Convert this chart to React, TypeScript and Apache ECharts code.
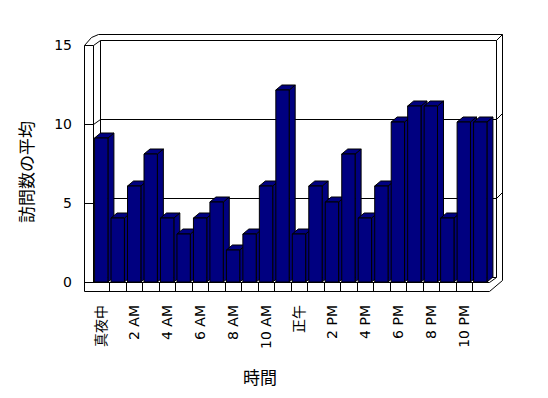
import React, { useEffect, useRef } from "react";
import * as echarts from "echarts";

const CATEGORIES = [
  "真夜中", "1 AM", "2 AM", "3 AM", "4 AM", "5 AM", "6 AM", "7 AM", "8 AM", "9 AM", "10 AM", "11 AM",
  "正午", "1 PM", "2 PM", "3 PM", "4 PM", "5 PM", "6 PM", "7 PM", "8 PM", "9 PM", "10 PM", "11 PM",
];
const VISITS = [9, 4, 6, 8, 4, 3, 4, 5, 2, 3, 6, 12, 3, 6, 5, 8, 4, 6, 10, 11, 11, 4, 10, 10];
const Y_MIN = 0;
const Y_MAX = 15;
const Y_STEP = 5;
const X_TITLE = "時間";
const Y_TITLE = "訪問数の平均";

const FONT = "'DejaVu Sans', 'Noto Sans CJK JP', sans-serif";
const CJK = "'Noto Sans CJK JP', sans-serif";
const NAVY = "#000080";

const r = (n: number) => Math.round(n) + 0.5;

function frameRender(params: any, api: any) {
  const n = CATEGORIES.length;
  const cw = api.size([1, 0])[0];
  const X0 = api.coord([0, 0])[0] - cw / 2;
  const X1 = api.coord([n - 1, 0])[0] + cw / 2;
  const py = (v: number) => api.coord([0, v])[1];
  const Y0 = py(Y_MIN);
  const YT = py(Y_MAX);
  const T = 9;
  const DX = 7, DY = -5;
  const OX = 13, OY = -11;
  const st = { stroke: "#000", lineWidth: 1, fill: null };
  const L = (pts: number[][]) => ({
    type: "polyline",
    shape: { points: pts.map((p) => [r(p[0]), r(p[1])]) },
    style: st,
  });
  const children: any[] = [];
  // white fills
  children.push({
    type: "polygon",
    shape: { points: [[X0 - T, YT], [X0 + DX, YT + DY], [X1 + DX, YT + DY], [X1 + DX, Y0 + DY], [X1, Y0 + T], [X0 - T, Y0 + T]] },
    style: { fill: "#fff", stroke: null },
  });
  // left wall
  children.push(L([[X0 - T, YT], [X0 - T, Y0 + T]]));
  children.push(L([[X0, YT], [X0, Y0]]));
  children.push(L([[X0 + DX, YT + DY], [X0 + DX, Y0 + DY]]));
  // top-left corner
  children.push(L([[X0 - T, YT], [X0, YT], [X0 + DX, YT + DY], [X1 + DX, YT + DY], [X1 + OX, YT + OY]]));
  children.push(L([[X0 - T, YT], [X0 - T + 7, YT - 8], [X0 + 5, YT + OY], [X1 + OX, YT + OY], [X1 + OX, Y0 - 2], [X1, Y0 + T]]));
  // right wall inner
  children.push(L([[X1 + DX, YT + DY], [X1 + DX, Y0 + DY]]));
  // floor
  children.push(L([[X0 - T, Y0 + T], [X1, Y0 + T]]));
  children.push(L([[X0 - T, Y0], [X1, Y0], [X1 + DX, Y0 + DY]]));
  children.push(L([[X0, Y0], [X0 + DX, Y0 + DY], [X1 + DX, Y0 + DY]]));
  // floor front ticks at category boundaries
  for (let k = 1; k < n; k++) {
    const x = (api.coord([k - 1, 0])[0] + api.coord([k, 0])[0]) / 2;
    children.push(L([[x, Y0], [x, Y0 + T]]));
  }
  // gridlines
  for (let v = Y_MIN + Y_STEP; v < Y_MAX; v += Y_STEP) {
    const y = py(v);
    children.push(L([[X0 - T, y], [X0, y], [X0 + DX, y + DY], [X1 + DX, y + DY], [X1 + OX, y + OY]]));
  }
  return { type: "group", children };
}

function barRender(params: any, api: any) {
  const i = api.value(0);
  const v = api.value(1);
  const top = api.coord([i, v]);
  const base = api.coord([i, 0]);
  const cw = api.size([1, 0])[0];
  const w = cw * 0.81;
  const x0 = top[0] - w / 2;
  const x1 = top[0] + w / 2;
  const yT = top[1];
  const yB = base[1];
  const dx = 6, dy = -5;
  const st = (fill: string) => ({ fill, stroke: "#000", lineWidth: 1 });
  return {
    type: "group",
    children: [
      {
        type: "polygon",
        shape: { points: [[x1, yB], [x1 + dx, yB + dy], [x1 + dx, yT + dy], [x1, yT]] },
        style: st(NAVY),
      },
      {
        type: "polygon",
        shape: { points: [[x0, yT], [x1, yT], [x1 + dx, yT + dy], [x0 + dx, yT + dy]] },
        style: st(NAVY),
      },
      {
        type: "rect",
        shape: { x: x0, y: yT, width: w, height: yB - yT },
        style: st(NAVY),
      },
    ],
  };
}

export default function App() {
  const ref = useRef<HTMLDivElement>(null);
  useEffect(() => {
    if (!ref.current) return;
    const chart = echarts.init(ref.current, null, { renderer: "svg" });
    const gridPos = { left: 93, right: 59.5 };
    chart.setOption({
      animation: false,
      backgroundColor: "#fff",
      grid: [
        { ...gridPos, top: 45, bottom: 116 },
        { ...gridPos, top: 42, bottom: 116 },
      ],
      xAxis: [
        {
          type: "category",
          gridIndex: 0,
          data: CATEGORIES,
          axisLine: { show: false },
          axisTick: { show: false },
          axisLabel: {
            interval: 1,
            rotate: 90,
            margin: 23,
            fontSize: 14,
            color: "#000",
            fontFamily: FONT,
          },
        },
        {
          type: "category",
          gridIndex: 1,
          data: CATEGORIES,
          show: false,
        },
      ],
      yAxis: [
        {
          type: "value",
          gridIndex: 0,
          min: Y_MIN,
          max: Y_MAX,
          interval: Y_STEP,
          axisLine: { show: false },
          axisTick: { show: false },
          splitLine: { show: false },
          axisLabel: { margin: 21, fontSize: 14, color: "#000", fontFamily: FONT },
        },
        {
          type: "value",
          gridIndex: 1,
          min: Y_MIN,
          max: Y_MAX,
          interval: Y_STEP,
          show: false,
        },
      ],
      graphic: [
        {
          type: "text",
          x: 260,
          y: 376,
          style: { text: X_TITLE, font: `17px ${CJK}`, fill: "#000", align: "center", verticalAlign: "middle" },
        },
        {
          type: "text",
          x: 25,
          y: 172,
          rotation: Math.PI / 2,
          style: { text: Y_TITLE, font: `17px ${CJK}`, fill: "#000", align: "center", verticalAlign: "middle" },
        },
      ],
      series: [
        {
          type: "custom",
          xAxisIndex: 0,
          yAxisIndex: 0,
          z: 1,
          silent: true,
          data: [[0, 0]],
          renderItem: frameRender,
        },
        {
          type: "custom",
          xAxisIndex: 1,
          yAxisIndex: 1,
          z: 2,
          data: VISITS.map((v, i) => [i, v]),
          encode: { x: 0, y: 1 },
          renderItem: barRender,
        },
      ],
    });
    return () => chart.dispose();
  }, []);
  return (
    <div
      ref={ref}
      style={{ position: "fixed", left: 0, top: 0, width: 548, height: 398, background: "#fff" }}
    />
  );
}
